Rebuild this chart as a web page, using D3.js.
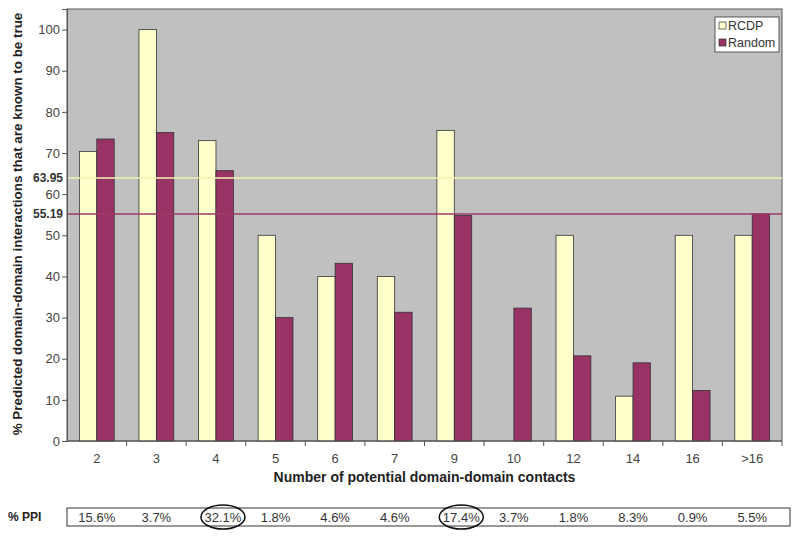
<!DOCTYPE html>
<html>
<head>
<meta charset="utf-8">
<script src="https://cdn.jsdelivr.net/npm/d3@7.9.0/dist/d3.min.js"></script>
<style>
  body { margin: 0; background: #fff; }
  text { font-family: "Liberation Sans", Arial, sans-serif; }
</style>
</head>
<body>
<svg id="chart" width="800" height="537"></svg>
<script>
// data
const contacts = ['2', '3', '4', '5', '6', '7', '9', '10', '12', '14', '16', '>16'];
const rcdp   = [70.4, 100, 73.0, 50, 40, 40, 75.5, 0, 50, 10.9, 50, 50];
const random = [73.4, 75, 65.7, 30, 43.2, 31.3, 54.8, 32.3, 20.7, 19, 12.3, 55.2];
const ppi = ['15.6%', '3.7%', '32.1%', '1.8%', '4.6%', '4.6%', '17.4%', '3.7%', '1.8%', '8.3%', '0.9%', '5.5%'];
const circled = ['32.1%', '17.4%'];
const refLines = [
  { value: 63.95, color: '#f2f2b0' },
  { value: 55.19, color: '#a0386a' }
];
const yTicks = [0, 10, 20, 30, 40, 50, 60, 70, 80, 90, 100];

const colors = { RCDP: '#ffffcc', Random: '#993366' };

const svg = d3.select('#chart');
const margin = { top: 9, right: 18, bottom: 96, left: 67 };
const width = 800 - margin.left - margin.right;
const height = 537 - margin.top - margin.bottom;

const g = svg.append('g').attr('transform', `translate(${margin.left},${margin.top})`);

const x = d3.scaleBand().domain(contacts).range([0, width]).padding(0);
const xInner = d3.scaleBand().domain(['RCDP', 'Random']).range([0, x.bandwidth()]).paddingInner(0).paddingOuter(0.71);
const y = d3.scaleLinear().domain([0, 105]).range([height, 0]);

// plot background
g.append('rect')
  .attr('width', width).attr('height', height)
  .attr('fill', '#c0c0c0')
  .attr('stroke', '#555').attr('stroke-width', 1);

// bars
const rows = contacts.map((c, i) => ({ c, RCDP: rcdp[i], Random: random[i] }));
const groups = g.selectAll('g.grp')
  .data(rows)
  .join('g')
  .attr('class', 'grp')
  .attr('transform', d => `translate(${x(d.c)},0)`);

groups.selectAll('rect')
  .data(d => ['RCDP', 'Random'].map(k => ({ k, v: d[k] })).filter(e => e.v > 0))
  .join('rect')
  .attr('x', d => xInner(d.k))
  .attr('y', d => y(d.v))
  .attr('width', xInner.bandwidth())
  .attr('height', d => height - y(d.v))
  .attr('fill', d => colors[d.k])
  .attr('stroke', '#333')
  .attr('stroke-width', 0.8);

// reference lines
g.selectAll('line.ref')
  .data(refLines)
  .join('line')
  .attr('class', 'ref')
  .attr('x1', 0).attr('x2', width)
  .attr('y1', d => y(d.value)).attr('y2', d => y(d.value))
  .attr('stroke', d => d.color)
  .attr('stroke-width', 1.5);

g.selectAll('text.reflab')
  .data(refLines)
  .join('text')
  .attr('class', 'reflab')
  .attr('x', -4)
  .attr('y', d => y(d.value))
  .attr('dy', '0.35em')
  .attr('text-anchor', 'end')
  .attr('font-size', 12)
  .attr('font-weight', 'bold')
  .attr('fill', '#333')
  .text(d => d.value.toFixed(2));

// y axis
const yAxis = g.append('g')
  .call(d3.axisLeft(y).tickValues(yTicks).tickSize(5).tickPadding(2));
yAxis.select('.domain').attr('stroke', '#555');
yAxis.selectAll('.tick line').attr('stroke', '#555');
yAxis.selectAll('.tick text')
  .attr('font-size', 13).attr('fill', '#444')
  .attr('font-family', '"Liberation Sans", Arial, sans-serif');

// x axis: ticks at band boundaries
const xAxis = g.append('g').attr('transform', `translate(0,${height})`);
xAxis.append('line').attr('x1', 0).attr('x2', width).attr('stroke', '#555');
xAxis.selectAll('line.tk')
  .data(contacts.slice(1).concat(['end']))
  .join('line')
  .attr('class', 'tk')
  .attr('x1', (d, i) => x.step() * (i + 1))
  .attr('x2', (d, i) => x.step() * (i + 1))
  .attr('y1', 0).attr('y2', 5)
  .attr('stroke', '#555');
xAxis.selectAll('text')
  .data(contacts)
  .join('text')
  .attr('x', d => x(d) + x.bandwidth() / 2)
  .attr('y', 22)
  .attr('text-anchor', 'middle')
  .attr('font-size', 13)
  .attr('fill', '#444')
  .text(d => d);

// axis titles
svg.append('text')
  .attr('x', margin.left + width / 2)
  .attr('y', 482)
  .attr('text-anchor', 'middle')
  .attr('font-size', 14)
  .attr('font-weight', 'bold')
  .attr('fill', '#222')
  .text('Number of potential domain-domain contacts');

svg.append('text')
  .attr('transform', `translate(22,${margin.top + height / 2 - 1}) rotate(-90)`)
  .attr('text-anchor', 'middle')
  .attr('font-size', 13.4)
  .attr('font-weight', 'bold')
  .attr('fill', '#222')
  .text('% Predicted domain-domain interactions that are known to be true');

// legend
const legend = g.append('g').attr('transform', `translate(${width - 67},8)`);
legend.append('rect')
  .attr('width', 64).attr('height', 35)
  .attr('fill', '#fff').attr('stroke', '#333').attr('stroke-width', 0.8);
['RCDP', 'Random'].forEach((k, i) => {
  const row = legend.append('g').attr('transform', `translate(4,${9 + i * 17})`);
  row.append('rect')
    .attr('x', 0).attr('y', -4).attr('width', 7).attr('height', 7)
    .attr('fill', colors[k]).attr('stroke', '#333').attr('stroke-width', 0.7);
  row.append('text')
    .attr('x', 9).attr('y', 0).attr('dy', '0.35em')
    .attr('font-size', 12.5).attr('fill', '#333')
    .text(k);
});

// % PPI table
const tableTop = 508;
const tableH = 18;
const tbl = svg.append('g');
tbl.append('text')
  .attr('x', 8).attr('y', tableTop + tableH / 2)
  .attr('dy', '0.35em')
  .attr('font-size', 12).attr('font-weight', 'bold').attr('fill', '#222')
  .text('% PPI');
tbl.append('rect')
  .attr('x', margin.left).attr('y', tableTop)
  .attr('width', 790 - margin.left).attr('height', tableH)
  .attr('fill', 'none').attr('stroke', '#333').attr('stroke-width', 1);
tbl.selectAll('text.ppi')
  .data(ppi)
  .join('text')
  .attr('class', 'ppi')
  .attr('x', (d, i) => margin.left + x(contacts[i]) + x.bandwidth() / 2 + (circled.includes(d) ? 7 : 0))
  .attr('y', tableTop + tableH / 2)
  .attr('dy', '0.35em')
  .attr('text-anchor', 'middle')
  .attr('font-size', 13)
  .attr('fill', '#333')
  .text(d => d);
tbl.selectAll('ellipse')
  .data(ppi.map((d, i) => ({ d, i })).filter(e => circled.includes(e.d)))
  .join('ellipse')
  .attr('cx', e => margin.left + x(contacts[e.i]) + x.bandwidth() / 2 + 7)
  .attr('cy', tableTop + tableH / 2)
  .attr('rx', 22).attr('ry', 12)
  .attr('fill', 'none').attr('stroke', '#111').attr('stroke-width', 1.5);
</script>
</body>
</html>
